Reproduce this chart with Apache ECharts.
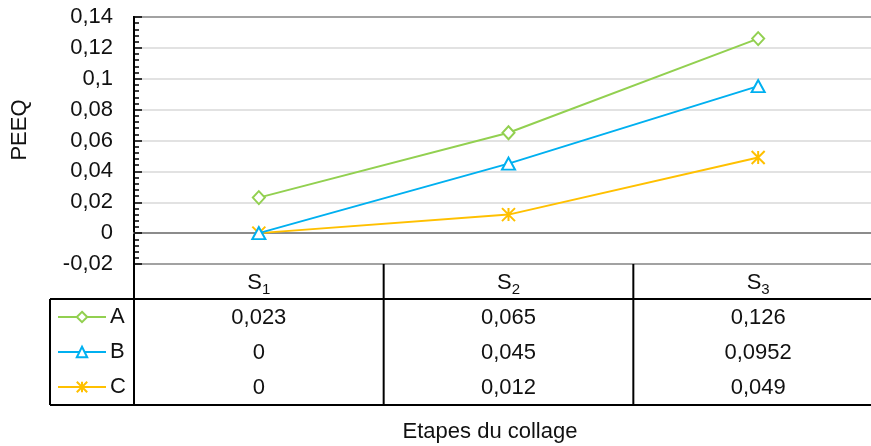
<!DOCTYPE html>
<html><head><meta charset="utf-8">
<script src="https://cdn.jsdelivr.net/npm/echarts@6/dist/echarts.min.js"></script>
<style>html,body{margin:0;padding:0;background:#fff;overflow:hidden;width:871px;height:446px}#c{width:883px;height:446px}</style>
</head><body><div id="c"></div>
<script>
const categories = ['S1', 'S2', 'S3'];
const seriesNames = ['A', 'B', 'C'];
const valuesA = [0.023, 0.065, 0.126];
const valuesB = [0, 0.045, 0.0952];
const valuesC = [0, 0.012, 0.049];
const yMin = -0.02, yMax = 0.14, yStep = 0.02;
const xTitle = 'Etapes du collage';
const yTitle = 'PEEQ';

const colors = ['#92D050', '#00B0F0', '#FFC000'];
const FONT = '"Liberation Sans", Arial, sans-serif';
const FS = 22;
const allValues = [valuesA, valuesB, valuesC];
const fmt = v => String(+(+v).toFixed(4)).replace('.', ',');

const symbols = ['diamond', 'triangle', 'path://M0,0L10,10M10,0L0,10M5,0L5,10'];
const symbolSizes = [[12, 13], [13, 12], [13, 13]];

const chart = echarts.init(document.getElementById('c'), null, {renderer: 'canvas'});

const series = seriesNames.map((n, i) => ({
  name: n,
  type: 'line',
  data: allValues[i],
  symbol: symbols[i],
  symbolSize: symbolSizes[i],
  showAllSymbol: true,
  lineStyle: {color: colors[i], width: 2},
  itemStyle: {color: i === 2 ? colors[i] : '#fff', borderColor: colors[i], borderWidth: 2},
  emphasis: {disabled: true},
  z: 10 - i
}));

const option = {
  animation: false,
  backgroundColor: '#fff',
  textStyle: {fontFamily: FONT},
  grid: {left: 134, top: 17, right: 0, bottom: 182, show: true, borderColor: '#000', borderWidth: 2, containLabel: false},
  legend: {
    orient: 'vertical', left: 57, top: 306, padding: 0,
    itemWidth: 48, itemHeight: 13, itemGap: 13,
    textStyle: {fontSize: FS, color: '#111', fontFamily: FONT, padding: [0, 0, 0, -1]},
    data: seriesNames,
    selectedMode: false
  },
  xAxis: {
    type: 'category', data: categories, boundaryGap: true,
    axisLine: {show: true, onZero: true, lineStyle: {color: '#8c8c8c', width: 2}},
    axisTick: {show: false}, axisLabel: {show: false}, splitLine: {show: false}
  },
  yAxis: {
    type: 'value', min: yMin, max: yMax, interval: yStep,
    axisLine: {show: true, lineStyle: {color: '#000', width: 2}},
    axisTick: {show: true, inside: true, length: 8, lineStyle: {color: '#000', width: 1.5}},
    minorTick: {show: true, splitNumber: 5, length: 5, lineStyle: {color: '#000', width: 1.5}},
    axisLabel: {formatter: v => fmt(v), fontSize: FS, color: '#111', margin: 21, fontFamily: FONT},
    splitLine: {show: true, lineStyle: {color: '#d9d9d9', width: 1.5}}
  },
  series: series
};
chart.setOption(option);

const p = (i, v) => chart.convertToPixel({gridIndex: 0}, [i, v]);
const band = p(1, 0)[0] - p(0, 0)[0];
const x0 = p(0, 0)[0] - band / 2;
const xEnd = x0 + band * categories.length;
const yTop = p(0, yMin)[1];
const rowH = 35;
const headerBottom = yTop + rowH;
const tableBottom = headerBottom + rowH * seriesNames.length + 1;
const legendLeft = 50;
const lineStyle = {stroke: '#000', lineWidth: 2};
const g = [];
g.push({type: 'line', shape: {x1: legendLeft, y1: headerBottom, x2: xEnd, y2: headerBottom}, style: lineStyle});
g.push({type: 'line', shape: {x1: legendLeft, y1: tableBottom, x2: xEnd, y2: tableBottom}, style: lineStyle});
g.push({type: 'line', shape: {x1: legendLeft, y1: headerBottom, x2: legendLeft, y2: tableBottom}, style: lineStyle});
for (let k = 0; k <= categories.length; k++) {
  const x = x0 + band * k;
  g.push({type: 'line', shape: {x1: x, y1: yTop, x2: x, y2: tableBottom}, style: lineStyle});
}
categories.forEach((c, i) => {
  const cx = p(i, 0)[0];
  g.push({type: 'text', x: cx, y: yTop + rowH / 2 + 1, style: {
    text: '{m|' + c.charAt(0) + '}{s|' + c.slice(1) + '}',
    align: 'center', verticalAlign: 'middle',
    rich: {
      m: {fontSize: FS, fontFamily: FONT, fill: '#111', verticalAlign: 'bottom'},
      s: {fontSize: 15, fontFamily: FONT, fill: '#111', verticalAlign: 'bottom', padding: [0, 0, -4, 0]}
    }
  }});
});
allValues.forEach((vals, r) => {
  vals.forEach((v, i) => {
    g.push({type: 'text', x: p(i, 0)[0], y: headerBottom + rowH * r + rowH / 2 + 1, style: {
      text: fmt(v), align: 'center', verticalAlign: 'middle', fontSize: FS, fontFamily: FONT, fill: '#111'
    }});
  });
});
g.push({type: 'text', x: 490, y: 432, style: {text: xTitle, align: 'center', verticalAlign: 'middle', fontSize: FS, fontFamily: FONT, fill: '#111'}});
g.push({type: 'text', x: 20, y: 130, rotation: Math.PI / 2, style: {text: yTitle, align: 'center', verticalAlign: 'middle', fontSize: FS, fontFamily: FONT, fill: '#111'}});
chart.setOption({graphic: g});
</script>
</body></html>
